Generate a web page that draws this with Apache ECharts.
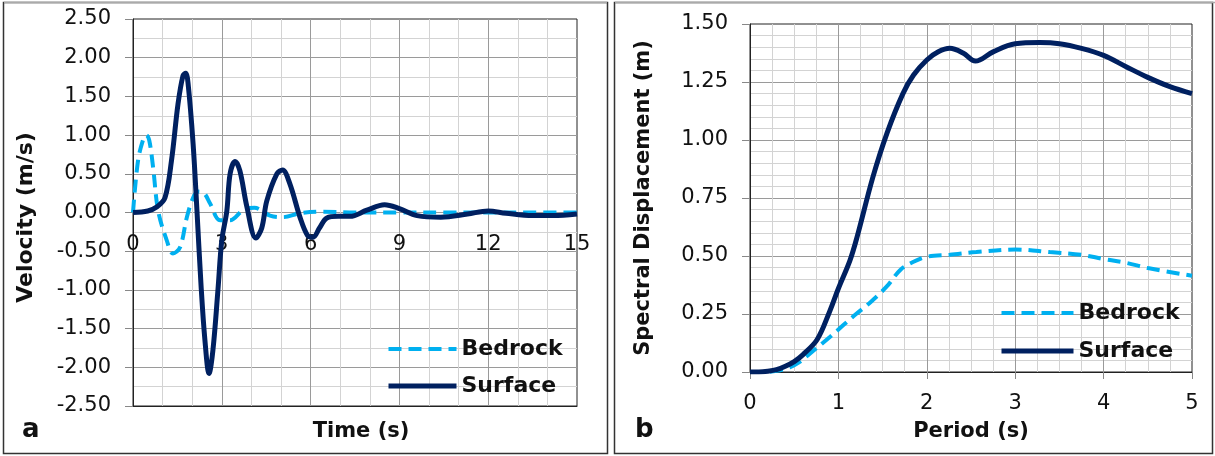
<!DOCTYPE html>
<html>
<head>
<meta charset="utf-8">
<script src="https://cdn.jsdelivr.net/npm/echarts@6/dist/echarts.min.js"></script>
<style>
html,body{margin:0;padding:0;background:#fff;}
#c{width:1215px;height:456px;}
</style>
</head>
<body>
<div id="c"></div>
<script>
// ---- Panel a: velocity time histories ----
const timeTicks = ['0','3','6','9','12','15'];
const surfaceT = [0,0.5,0.8,1.08,1.3,1.52,1.69,1.78,1.86,2.03,2.16,2.3,2.43,2.57,2.7,2.87,3.0,3.17,3.28,3.45,3.61,3.85,4.15,4.35,4.52,4.86,5.05,5.3,5.64,5.9,6.08,6.3,6.55,6.93,7.33,7.9,8.5,9.0,9.6,10.4,11.3,12.0,12.6,13.5,14.2,15.0];
const surfaceV = [0,0.02,0.07,0.19,0.67,1.4,1.77,1.8,1.67,0.89,0.03,-0.95,-1.65,-2.08,-1.78,-1.0,-0.36,0.02,0.5,0.66,0.54,0.07,-0.33,-0.2,0.15,0.5,0.55,0.37,-0.06,-0.30,-0.32,-0.2,-0.07,-0.05,-0.05,0.03,0.10,0.05,-0.04,-0.06,-0.02,0.02,-0.01,-0.04,-0.04,-0.02];
const bedrockT = [0,0.17,0.35,0.45,0.55,0.68,0.85,1.14,1.35,1.59,1.82,2.03,2.2,2.4,2.6,2.94,3.28,3.72,4.1,4.63,5.07,5.64,6.4,7.5,9,10.5,12,13.5,15];
const bedrockV = [0,0.67,0.95,1.0,0.93,0.58,0.02,-0.36,-0.53,-0.45,-0.06,0.19,0.27,0.25,0.12,-0.1,-0.1,0.03,0.06,-0.04,-0.06,-0.01,0.01,0,0,0,0,0,0];

// ---- Panel b: displacement response spectra ----
const periodTicks = ['0','1','2','3','4','5'];
const specSurfP = [0,0.1,0.2,0.3,0.4,0.5,0.6,0.76,0.9,1.0,1.13,1.21,1.39,1.55,1.73,1.85,2.0,2.13,2.26,2.41,2.55,2.75,3.0,3.28,3.5,3.75,4.0,4.26,4.5,4.75,5.0];
const specSurfD = [0,0.0,0.003,0.01,0.025,0.045,0.075,0.14,0.26,0.36,0.48,0.58,0.84,1.03,1.2,1.28,1.345,1.38,1.395,1.375,1.34,1.38,1.415,1.42,1.415,1.395,1.365,1.315,1.27,1.23,1.20];
const specBedP = [0,0.2,0.3,0.45,0.55,0.68,0.9,1.05,1.2,1.36,1.55,1.70,1.85,2.0,2.26,2.56,3.0,3.39,3.75,4.0,4.26,4.5,5.0];
const specBedD = [0,0.001,0.005,0.02,0.04,0.08,0.15,0.2,0.25,0.30,0.37,0.44,0.475,0.497,0.505,0.517,0.528,0.517,0.505,0.487,0.47,0.448,0.415];

const seriesNames = ['Bedrock','Surface'];
const panelLabels = ['a','b'];

const FONT = 'DejaVu Sans';
const BED = '#00B0F0';
const SUR = '#002060';
const zip = (a,b) => a.map((x,i)=>[x,b[i]]);

const chart = echarts.init(document.getElementById('c'), null, {renderer:'canvas'});

const majorLine = {show:true, lineStyle:{color:'#9a9a9a', width:1}, showMinLine:false, showMaxLine:false};
const minorLine = {show:true, lineStyle:{color:'#d3d3d3', width:1}};

const legendData = [
  {name:seriesNames[0], lineStyle:{width:4}},
  {name:seriesNames[1], lineStyle:{width:5}}
];
const legendCommon = {
  orient:'vertical', itemHeight:22, selectedMode:false,
  itemStyle:{color:'rgba(0,0,0,0)', borderWidth:0, borderColor:'rgba(0,0,0,0)'},
  textStyle:{fontFamily:FONT, fontWeight:'bold', fontSize:22, color:'#111'}
};

chart.setOption({
  animation:false,
  backgroundColor:'#fff',
  textStyle:{fontFamily:FONT},
  grid:[
    {left:133, top:19, width:444, height:387, show:true, borderColor:'#222', borderWidth:1, containLabel:false, outerBoundsMode:'none'},
    {left:750, top:24, width:442, height:348, show:true, borderColor:'#222', borderWidth:1, containLabel:false, outerBoundsMode:'none'}
  ],
  xAxis:[
    {type:'value', gridIndex:0, min:0, max:15, interval:3,
     name:'Time (s)', nameLocation:'middle', nameGap:15,
     nameTextStyle:{fontFamily:FONT, fontWeight:'bold', fontSize:21, color:'#111', padding:[0,0,0,12]},
     axisLine:{onZero:false, lineStyle:{color:'#222', width:1}},
     axisTick:{show:false},
     minorTick:{show:true, splitNumber:3, length:0},
     axisLabel:{fontSize:21, color:'#111', margin:-172, fontFamily:FONT,
       formatter:(v)=> timeTicks[Math.round(v/3)] },
     splitLine:majorLine, minorSplitLine:minorLine},
    {type:'value', gridIndex:1, min:0, max:5, interval:1,
     name:'Period (s)', nameLocation:'middle', nameGap:49,
     nameTextStyle:{fontFamily:FONT, fontWeight:'bold', fontSize:21, color:'#111'},
     axisLine:{onZero:false, lineStyle:{color:'#222', width:1}},
     axisTick:{show:true, length:7, lineStyle:{color:'#888'}},
     minorTick:{show:true, splitNumber:4, length:0},
     axisLabel:{fontSize:21, color:'#111', margin:21, fontFamily:FONT,
       formatter:(v)=> periodTicks[Math.round(v)] },
     splitLine:majorLine, minorSplitLine:minorLine}
  ],
  yAxis:[
    {type:'value', gridIndex:0, min:-2.5, max:2.5, interval:0.5,
     name:'Velocity (m/s)', nameLocation:'middle', nameGap:96,
     nameTextStyle:{fontFamily:FONT, fontWeight:'bold', fontSize:22, color:'#111', padding:[0,10,0,0]},
     axisLine:{show:true, onZero:false, lineStyle:{color:'#222', width:1}},
     axisTick:{show:true, length:8, lineStyle:{color:'#888'}},
     minorTick:{show:true, splitNumber:2, length:0},
     axisLabel:{fontSize:21, color:'#111', margin:22, fontFamily:FONT, formatter:(v)=>v.toFixed(2)},
     splitLine:majorLine, minorSplitLine:minorLine},
    {type:'value', gridIndex:1, min:0, max:1.5, interval:0.25,
     name:'Spectral Displacement (m)', nameLocation:'middle', nameGap:96,
     nameTextStyle:{fontFamily:FONT, fontWeight:'bold', fontSize:21, color:'#111'},
     axisLine:{show:true, onZero:false, lineStyle:{color:'#222', width:1}},
     axisTick:{show:true, length:8, lineStyle:{color:'#888'}},
     minorTick:{show:true, splitNumber:5, length:0},
     axisLabel:{fontSize:21, color:'#111', margin:22, fontFamily:FONT, formatter:(v)=>v.toFixed(2)},
     splitLine:majorLine, minorSplitLine:minorLine}
  ],
  legend:[
    Object.assign({}, legendCommon, {data:legendData, left:381, top:333, itemWidth:68, itemGap:15}),
    Object.assign({}, legendCommon, {data:legendData, left:994, top:297, itemWidth:72, itemGap:16})
  ],
  series:[
    {name:seriesNames[0], type:'line', xAxisIndex:0, yAxisIndex:0, data:zip(bedrockT,bedrockV), smooth:0.35, showSymbol:false, symbol:'none',
     lineStyle:{color:BED, width:4, type:[13,7]}, itemStyle:{color:BED}, z:3},
    {name:seriesNames[1], type:'line', xAxisIndex:0, yAxisIndex:0, data:zip(surfaceT,surfaceV), smooth:0.35, showSymbol:false, symbol:'none',
     lineStyle:{color:SUR, width:5}, itemStyle:{color:SUR}, z:4},
    {name:seriesNames[0], type:'line', xAxisIndex:1, yAxisIndex:1, data:zip(specBedP,specBedD), smooth:0.35, showSymbol:false, symbol:'none',
     lineStyle:{color:BED, width:4, type:[13,7]}, itemStyle:{color:BED}, z:3},
    {name:seriesNames[1], type:'line', xAxisIndex:1, yAxisIndex:1, data:zip(specSurfP,specSurfD), smooth:0.35, showSymbol:false, symbol:'none',
     lineStyle:{color:SUR, width:5}, itemStyle:{color:SUR}, z:4}
  ],
  graphic:[
    {type:'rect', shape:{x:3.5, y:2.5, width:604, height:451}, style:{fill:'none', stroke:'#333', lineWidth:1.5}, z:-1, silent:true},
    {type:'line', shape:{x1:4, y1:2.5, x2:607, y2:2.5}, style:{stroke:'#aaa', lineWidth:1.5}, z:0, silent:true},
    {type:'rect', shape:{x:614.5, y:2.5, width:598, height:451}, style:{fill:'none', stroke:'#333', lineWidth:1.5}, z:-1, silent:true},
    {type:'line', shape:{x1:615, y1:2.5, x2:1215, y2:2.5}, style:{stroke:'#aaa', lineWidth:1.5}, z:0, silent:true},
    {type:'text', left:22, top:417, style:{text:panelLabels[0], font:'bold 26px "DejaVu Sans"', fill:'#111'}},
    {type:'text', left:635, top:417, style:{text:panelLabels[1], font:'bold 26px "DejaVu Sans"', fill:'#111'}}
  ]
});
</script>
</body>
</html>
